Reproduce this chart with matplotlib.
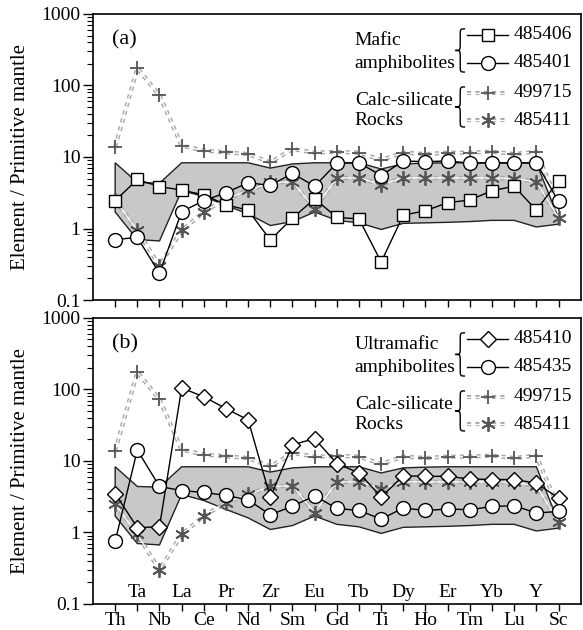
import numpy as np
import matplotlib
matplotlib.use("Agg")
import matplotlib.pyplot as plt
from matplotlib.path import Path
from matplotlib.patches import PathPatch

plt.rcParams["font.family"] = ["Liberation Serif", "DejaVu Serif"]

elements = ["Th", "Ta", "Nb", "La", "Ce", "Pr", "Nd", "Zr", "Sm", "Eu", "Gd",
            "Tb", "Ti", "Dy", "Ho", "Er", "Tm", "Yb", "Lu", "Y", "Sc"]

# Mafic amphibolites
s485406 = [2.45, 4.85, 3.85, 3.45, 2.95, 2.15, 1.8, 0.69, 1.4, 2.6, 1.43,
           1.36, 0.34, 1.54, 1.77, 2.3, 2.5, 3.38, 3.9, 1.8, 4.65]
s485401 = [0.70, 0.75, 0.236, 1.72, 2.45, 3.17, 4.37, 4.0, 5.9, 3.9, 8.2,
           8.3, 5.5, 8.8, 8.6, 8.8, 8.2, 8.3, 8.2, 8.3, 2.4]

# Ultramafic amphibolites
s485410 = [3.5, 1.17, 1.2, 105, 79, 54, 37.5, 3.1, 16.9, 20.5, 9.2,
           6.8, 3.13, 6.2, 6.1, 6.1, 5.6, 5.5, 5.5, 4.9, 3.03]
s485435 = [0.75, 14.2, 4.4, 3.85, 3.63, 3.3, 2.85, 1.77, 2.33, 3.25, 2.17,
           2.03, 1.54, 2.2, 2.03, 2.13, 2.08, 2.31, 2.37, 1.87, 1.97]

# Calc-silicate rocks (shown in both panels)
s499715 = [13.9, 174, 73, 14.4, 12.3, 11.6, 11.0, 8.4, 12.9, 11.5, 11.8,
           11.5, 9.1, 11.5, 11.0, 11.5, 11.5, 11.9, 11.0, 11.9, 2.2]
s485411 = [2.5, 0.94, 0.30, 0.94, 1.7, 2.6, 3.4, 4.4, 4.5, 1.9, 5.1,
           5.1, 4.1, 5.1, 5.1, 5.1, 5.1, 5.1, 5.0, 4.5, 1.42]

# shaded reference field
field_hi = [8.3, 4.4, 4.3, 8.3, 8.3, 8.3, 8.3, 7.0, 8.0, 8.3, 8.3,
            8.3, 6.8, 8.0, 8.2, 8.3, 8.3, 8.3, 8.3, 8.3, 1.4]
field_lo = [1.7, 0.70, 0.67, 3.4, 2.8, 2.1, 1.6, 1.1, 1.25, 1.7, 1.3,
            1.2, 0.97, 1.18, 1.2, 1.22, 1.25, 1.3, 1.3, 1.05, 1.15]

x = np.arange(len(elements))

FS = 14
ASTERISK = (6, 2, 0)
MARKERS = {
    "square": dict(marker="s", ms=8.5, mfc="white", mec="black", mew=1.0),
    "circle": dict(marker="o", ms=10, mfc="white", mec="black", mew=1.0),
    "diamond": dict(marker="D", ms=8, mfc="white", mec="black", mew=1.0),
}


def dotted(ax, xs, ys, zorder=3, **kw):
    # grey hollow dotted line: wide dotted stroke with a white core
    ax.plot(xs, ys, color="#a8a8a8", lw=3.0, ls=(0, (1, 1)), zorder=zorder, **kw)
    ax.plot(xs, ys, color="white", lw=0.9, zorder=zorder, **kw)


def dotted_marks(ax, xs, ys, marker, zorder=3.5, **kw):
    ms = 10 if marker == "+" else 10.5
    ax.plot(xs, ys, ls="none", marker=marker, ms=ms, mec="#555555", mew=1.3,
            zorder=zorder, **kw)


def brace(ax, xr, y0, y1, w=0.020, r=0.025):
    xm = xr - w / 2
    ym = (y0 + y1) / 2
    verts = [(xr, y1), (xm, y1), (xm, y1), (xm, y1 - r),
             (xm, ym + r),
             (xm, ym), (xm, ym), (xr - w, ym),
             (xm, ym), (xm, ym), (xm, ym - r),
             (xm, y0 + r),
             (xm, y0), (xm, y0), (xr, y0)]
    codes = [Path.MOVETO, Path.CURVE4, Path.CURVE4, Path.CURVE4,
             Path.LINETO,
             Path.CURVE4, Path.CURVE4, Path.CURVE4,
             Path.CURVE4, Path.CURVE4, Path.CURVE4,
             Path.LINETO,
             Path.CURVE4, Path.CURVE4, Path.CURVE4]
    ax.add_patch(PathPatch(Path(verts, codes), transform=ax.transAxes,
                           fc="none", ec="black", lw=1.0, clip_on=False))


def legend_row(ax, y, label, marker, solid):
    x0, x1 = 0.767, 0.852
    xm = (x0 + x1) / 2
    tr = dict(transform=ax.transAxes)
    if solid:
        ax.plot([x0, x1], [y, y], color="black", lw=1.0, **tr)
        ax.plot([xm], [y], ls="none", **MARKERS[marker], **tr)
    else:
        dotted(ax, [x0, x1], [y, y], **tr)
        dotted_marks(ax, [xm], [y], marker, **tr)
    ax.text(0.862, y, label, ha="left", va="center", fontsize=FS, **tr)


def panel(ax, tag, names, samples, labels):
    ax.fill(np.r_[x, x[::-1]], np.r_[field_hi, field_lo[::-1]],
            fc="#c8c8c8", ec="#222222", lw=1.0, zorder=1)
    dotted(ax, x, s499715)
    dotted(ax, x, s485411)
    dotted_marks(ax, x, s499715, "+")
    dotted_marks(ax, x, s485411, ASTERISK)
    for vals, m in samples:
        ax.plot(x, vals, color="black", lw=1.0, zorder=5)
        ax.plot(x, vals, ls="none", zorder=6, **MARKERS[m])

    ax.set_yscale("log")
    ax.set_ylim(0.1, 1000)
    ax.set_xlim(-1, 21)
    ax.set_yticks([0.1, 1, 10, 100, 1000])
    ax.set_yticklabels(["0.1", "1", "10", "100", "1000"])
    ax.set_xticks(x)
    ax.tick_params(axis="y", which="major", direction="out", length=7,
                   width=1.0, labelsize=FS, pad=2)
    ax.tick_params(axis="y", which="minor", direction="out", length=4,
                   width=0.8)
    ax.tick_params(axis="x", direction="out", length=5, width=1.0,
                   labelsize=FS, pad=1)
    for s in ax.spines.values():
        s.set_linewidth(1.2)

    tr = dict(transform=ax.transAxes)
    ax.text(0.038, 0.91, tag, fontsize=16, ha="left", va="center", **tr)

    # legend block with braces
    ax.text(0.537, 0.907, names[0], fontsize=FS, ha="left", va="center", **tr)
    ax.text(0.537, 0.828, names[1], fontsize=FS, ha="left", va="center", **tr)
    brace(ax, 0.763, 0.797, 0.948)
    ax.text(0.537, 0.699, "Calc-silicate", fontsize=FS, ha="left",
            va="center", **tr)
    ax.text(0.537, 0.629, "Rocks", fontsize=FS, ha="left", va="center", **tr)
    brace(ax, 0.763, 0.605, 0.745)

    for (vals, m), (yy, lab) in zip(samples, labels):
        legend_row(ax, yy, lab, m, True)
    legend_row(ax, 0.724, "499715", "+", False)
    legend_row(ax, 0.629, "485411", ASTERISK, False)


fig = plt.figure(figsize=(5.83, 6.30), dpi=100)
ax_a = fig.add_axes([0.1595, 0.5238, 0.8365, 0.454])
ax_b = fig.add_axes([0.1595, 0.0413, 0.8365, 0.454])

panel(ax_a, "(a)", ("Mafic", "amphibolites"),
      [(s485406, "square"), (s485401, "circle")],
      [(0.927, "485406"), (0.829, "485401")])
panel(ax_b, "(b)", ("Ultramafic", "amphibolites"),
      [(s485410, "diamond"), (s485435, "circle")],
      [(0.927, "485410"), (0.829, "485435")])

ax_a.set_xticklabels([])
# alternate element names: even ones under the axis, odd ones just inside it
ax_b.set_xticklabels([e if i % 2 == 0 else "" for i, e in enumerate(elements)])
for i, e in enumerate(elements):
    if i % 2 == 1:
        ax_b.text(i, 0.012, e, transform=ax_b.get_xaxis_transform(),
                  ha="center", va="bottom", fontsize=FS)

for ax in (ax_a, ax_b):
    pos = ax.get_position()
    fig.text(0.036, (pos.y0 + pos.y1) / 2, "Element / Primitive mantle",
             rotation=90, ha="center", va="center", fontsize=15)

fig.savefig("out.png", dpi=100)
